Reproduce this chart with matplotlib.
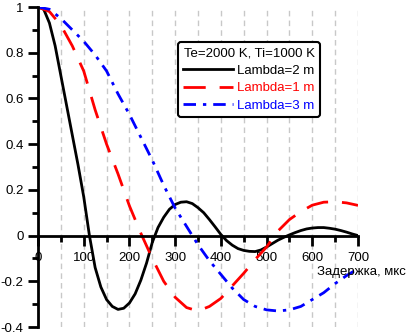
import matplotlib
matplotlib.use("Agg")
import matplotlib.pyplot as plt
from matplotlib.ticker import MultipleLocator

plt.rcParams['font.family'] = ['Liberation Sans', 'DejaVu Sans']

# delay, us (black curve is read at a finer step)
delay_fine = [0, 12.5, 25, 37.5, 50, 62.5, 75, 87.5, 100, 112.5, 125, 137.5,
              150, 162.5, 175, 187.5, 200, 212.5, 225, 237.5, 250, 262.5, 275,
              287.5, 300, 312.5, 325, 337.5, 350, 362.5, 375, 387.5, 400,
              412.5, 425, 437.5, 450, 462.5, 475, 487.5, 500, 512.5, 525,
              537.5, 550, 562.5, 575, 587.5, 600, 612.5, 625, 637.5, 650,
              662.5, 675, 687.5, 700]
delay = [0, 25, 50, 75, 100, 125, 150, 175, 200, 225, 250, 275, 300, 325, 350,
         375, 400, 425, 450, 475, 500, 525, 550, 575, 600, 625, 650, 675, 700]

# Lambda = 2 m
acf_l2 = [1.0, 0.99, 0.93, 0.83, 0.70, 0.57, 0.44, 0.31, 0.17, 0.0, -0.14,
          -0.225, -0.28, -0.31, -0.323, -0.318, -0.295, -0.255, -0.195, -0.12,
          -0.03, 0.035, 0.08, 0.115, 0.136, 0.146, 0.148, 0.14, 0.122, 0.10,
          0.07, 0.038, 0.005, -0.022, -0.042, -0.057, -0.065, -0.069, -0.07,
          -0.063, -0.05, -0.035, -0.02, -0.008, 0.003, 0.013, 0.022, 0.029,
          0.033, 0.035, 0.035, 0.032, 0.028, 0.022, 0.015, 0.007, 0.0]
# Lambda = 1 m
acf_l1 = [1.0, 0.98, 0.92, 0.83, 0.72, 0.55, 0.40, 0.27, 0.13, 0.01, -0.10,
          -0.20, -0.27, -0.315, -0.33, -0.31, -0.275, -0.22, -0.165, -0.105,
          -0.05, 0.02, 0.07, 0.105, 0.133, 0.146, 0.148, 0.143, 0.132]
# Lambda = 3 m
acf_l3 = [1.0, 0.99, 0.95, 0.90, 0.85, 0.79, 0.72, 0.62, 0.53, 0.43, 0.33,
          0.22, 0.12, 0.04, -0.04, -0.11, -0.17, -0.23, -0.28, -0.31, -0.325,
          -0.33, -0.325, -0.31, -0.28, -0.25, -0.21, -0.175, -0.145]

fig = plt.figure(figsize=(4.08, 3.35), dpi=100)
ax = fig.add_axes([38 / 408, 8 / 335, 320 / 408, 320 / 335])

ax.plot(delay_fine, acf_l2, color='black', lw=2, label='Lambda=2 m')
ax.plot(delay, acf_l1, color='red', lw=2, dashes=(8, 5), label='Lambda=1 m')
ax.plot(delay, acf_l3, color='blue', lw=2, dashes=(4.5, 2.5, 1.2, 2.5), label='Lambda=3 m')

ax.set_xlim(0, 700)
ax.set_ylim(-0.4, 1)

ax.spines['left'].set_position(('data', 0))
ax.spines['bottom'].set_position(('data', 0))
ax.spines['top'].set_visible(False)
ax.spines['right'].set_visible(False)
for s in ('left', 'bottom'):
    ax.spines[s].set_linewidth(2)

ax.xaxis.set_major_locator(MultipleLocator(100))
ax.xaxis.set_minor_locator(MultipleLocator(50))
ax.yaxis.set_major_locator(MultipleLocator(0.2))
ax.yaxis.set_minor_locator(MultipleLocator(0.1))
ax.yaxis.set_major_formatter(plt.FuncFormatter(lambda v, p: f'{v:g}'))
ax.tick_params(which='major', length=7.5, width=2, labelsize=9.5, direction='out')
ax.tick_params(which='minor', length=4.5, width=2, direction='out')
ax.tick_params(axis='x', pad=4)
ax.tick_params(axis='y', pad=3)

ax.grid(axis='x', which='both', color='#c8c8c8', ls=(0, (4, 3)), lw=1)
ax.set_axisbelow(True)

leg = ax.legend(title='Te=2000 K, Ti=1000 K', loc='upper left',
                bbox_to_anchor=(140 / 320, 1 - 35 / 320), fontsize=9.5,
                title_fontsize=9.5, frameon=True, fancybox=True,
                handlelength=3.8, borderpad=0.4, labelspacing=0.4,
                handletextpad=0.3, borderaxespad=0)
leg.get_frame().set_edgecolor('black')
leg.get_frame().set_linewidth(1.5)
leg.get_frame().set_alpha(1)
for txt, c in zip(leg.get_texts(), ['black', 'red', 'blue']):
    txt.set_color(c)

fig.text(406 / 408, 1 - 272 / 335, 'Задержка, мкс', ha='right', va='center', fontsize=9.5)

fig.savefig('out.png', dpi=100)
